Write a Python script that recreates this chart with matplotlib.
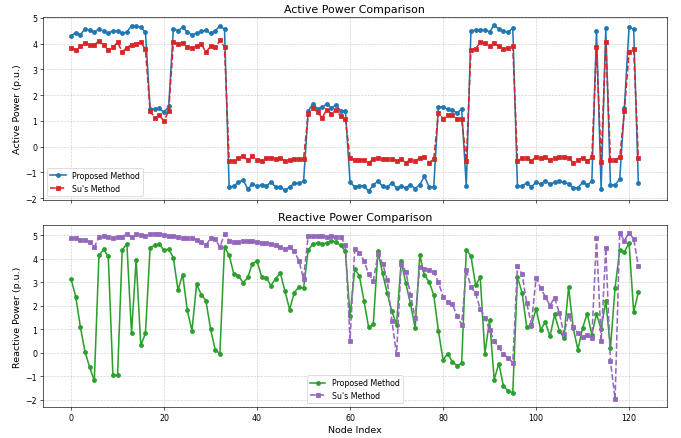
import numpy as np
import matplotlib
matplotlib.use("Agg")
import matplotlib.pyplot as plt

# Active power (p.u.) per node
active_proposed = [
    4.30, 4.43, 4.34, 4.57, 4.53, 4.44, 4.57, 4.48, 4.40, 4.50,
    4.50, 4.40, 4.44, 4.70, 4.67, 4.63, 4.44, 1.47, 1.47, 1.48,
    1.33, 1.56, 4.57, 4.50, 4.63, 4.45, 4.34, 4.40, 4.47, 4.52,
    4.40, 4.50, 4.68, 4.56, -1.58, -1.52, -1.39, -1.29, -1.65, -1.45,
    -1.54, -1.48, -1.52, -1.39, -1.56, -1.58, -1.69, -1.58, -1.42, -1.42,
    -1.35, 1.38, 1.66, 1.47, 1.53, 1.66, 1.49, 1.63, 1.38, 1.40,
    -1.39, -1.56, -1.52, -1.52, -1.74, -1.48, -1.35, -1.54, -1.58, -1.40,
    -1.61, -1.54, -1.60, -1.48, -1.63, -1.48, -1.15, -1.57, -1.57, 1.54,
    1.54, 1.45, 1.43, 1.30, 1.47, -1.54, 4.49, 4.53, 4.54, 4.54,
    4.45, 4.72, 4.56, 4.48, 4.44, 4.61, -1.54, -1.52, -1.42, -1.56,
    -1.39, -1.45, -1.35, -1.45, -1.39, -1.33, -1.39, -1.44, -1.60, -1.60,
    -1.39, -1.49, -1.35, 4.50, -1.65, 4.59, -1.48, -1.49, -1.26, 1.51,
    4.63, 4.56, -1.42,
]
active_su = [
    3.82, 3.77, 3.89, 4.02, 3.95, 3.95, 4.10, 3.95, 3.75, 3.85,
    4.05, 3.68, 3.84, 3.96, 3.99, 4.05, 3.78, 1.38, 1.12, 1.21,
    0.99, 1.40, 4.05, 3.98, 4.04, 3.85, 3.84, 3.91, 3.99, 3.67,
    3.89, 3.85, 4.12, 3.88, -0.55, -0.55, -0.45, -0.37, -0.53, -0.36,
    -0.51, -0.55, -0.46, -0.44, -0.49, -0.46, -0.55, -0.51, -0.50, -0.50,
    -0.49, 1.27, 1.49, 1.34, 1.12, 1.44, 1.27, 1.44, 1.18, 1.06,
    -0.46, -0.51, -0.51, -0.51, -0.63, -0.49, -0.45, -0.49, -0.50, -0.50,
    -0.55, -0.50, -0.62, -0.51, -0.55, -0.45, -0.40, -0.62, -0.49, 1.30,
    1.09, 1.21, 1.21, 1.09, 1.08, -0.57, 3.76, 3.80, 4.05, 4.02,
    3.90, 4.02, 3.89, 3.78, 3.84, 3.89, -0.57, -0.44, -0.46, -0.55,
    -0.40, -0.45, -0.41, -0.51, -0.44, -0.39, -0.41, -0.44, -0.62, -0.51,
    -0.44, -0.55, -0.42, 3.86, -0.59, 4.08, -0.51, -0.51, -0.42, 1.38,
    3.69, 3.78, -0.45,
]

# Reactive power (p.u.) per node
reactive_proposed = [
    3.14, 2.39, 1.10, 0.04, -0.62, -1.18, 4.15, 4.40, 4.11, -0.96,
    -0.96, 4.37, 4.65, 0.84, 3.95, 0.31, 0.83, 4.47, 4.58, 4.62,
    4.36, 4.42, 4.05, 2.67, 3.33, 1.80, 0.94, 2.91, 2.48, 2.22,
    1.01, 0.13, -0.04, 4.50, 4.15, 3.36, 3.28, 2.98, 3.21, 3.80,
    3.90, 3.23, 3.19, 2.86, 3.16, 3.40, 2.63, 1.84, 2.56, 2.81,
    2.74, 4.38, 4.62, 4.68, 4.64, 4.68, 4.76, 4.72, 4.57, 4.33,
    1.55, 3.56, 3.28, 2.21, 1.08, 1.22, 4.32, 3.38, 2.53, 1.76,
    1.20, 3.90, 2.95, 2.08, 1.05, 4.15, 3.31, 3.02, 2.46, 0.94,
    -0.30, -0.04, -0.38, -0.55, -0.45, 4.39, 4.12, 2.88, 3.21, -0.04,
    1.39, -1.14, -0.46, -1.42, -1.62, -1.70, 3.22, 2.56, 1.08, 1.15,
    1.87, 0.98, 1.31, 0.70, 1.63, 0.94, 0.63, 2.80, 1.05, 0.13,
    1.05, 1.67, 0.77, 1.65, 1.01, 2.21, 0.21, 2.77, 4.37, 4.29,
    4.68, 1.73, 2.57,
]
reactive_su = [
    4.89, 4.88, 4.82, 4.80, 4.71, 4.50, 4.92, 4.98, 4.95, 4.89,
    4.91, 4.95, 5.06, 4.92, 5.06, 5.00, 4.99, 5.06, 5.06, 5.04,
    5.02, 4.99, 4.96, 4.94, 4.89, 4.88, 4.88, 4.82, 4.71, 4.57,
    4.88, 4.85, 4.50, 5.05, 4.78, 4.71, 4.71, 4.74, 4.74, 4.74,
    4.71, 4.68, 4.68, 4.64, 4.57, 4.50, 4.43, 4.50, 4.33, 3.92,
    3.15, 4.99, 4.97, 4.96, 4.96, 4.95, 4.96, 4.95, 4.93, 4.60,
    0.52, 4.43, 4.25, 3.92, 3.35, 3.07, 4.19, 3.80, 3.09, 1.36,
    -0.07, 3.80, 3.45, 2.46, 1.48, 3.66, 3.56, 3.52, 3.45, 3.00,
    2.39, 2.18, 2.07, 1.58, 1.20, 3.52, 2.81, 2.53, 1.87, 1.50,
    0.98, 0.49, 0.24, -0.07, -0.21, -0.42, 3.70, 3.36, 2.11, 1.20,
    3.19, 2.74, 2.39, 2.01, 2.35, 1.69, 0.80, 1.62, 1.08, 0.84,
    0.66, 0.77, 0.63, 4.88, 0.49, 4.46, -0.35, -1.97, 5.10, 4.78,
    5.10, 4.85, 3.70,
]

nodes = np.arange(len(active_proposed))

fig, (ax1, ax2) = plt.subplots(2, 1, figsize=(12, 7.735), dpi=56.75, sharex=True)

# active power
ax1.plot(nodes, active_proposed, color='#1f77b4', linestyle='-', marker='o',
         markersize=5, linewidth=2, label='Proposed Method')
ax1.plot(nodes, active_su, color='#d62728', linestyle='--', marker='s',
         markersize=5, linewidth=2, label="Su's Method")
ax1.set_title('Active Power Comparison', fontsize=14)
ax1.set_ylabel('Active Power (p.u.)', fontsize=12)
ax1.grid(True, linestyle='--', alpha=0.6)
ax1.legend(loc='lower left')

# reactive power
ax2.plot(nodes, reactive_proposed, color='#2ca02c', linestyle='-', marker='o',
         markersize=5, linewidth=2, label='Proposed Method')
ax2.plot(nodes, reactive_su, color='#9467bd', linestyle='--', marker='s',
         markersize=5, linewidth=2, label="Su's Method")
ax2.set_title('Reactive Power Comparison', fontsize=14)
ax2.set_xlabel('Node Index', fontsize=12)
ax2.set_ylabel('Reactive Power (p.u.)', fontsize=12)
ax2.grid(True, linestyle='--', alpha=0.6)
ax2.legend(loc='lower center')

ax1.set_position([0.0627, 0.5428, 0.9163, 0.4169])
ax2.set_position([0.0627, 0.0699, 0.9163, 0.4160])

fig.savefig('out.png', dpi=56.75)
